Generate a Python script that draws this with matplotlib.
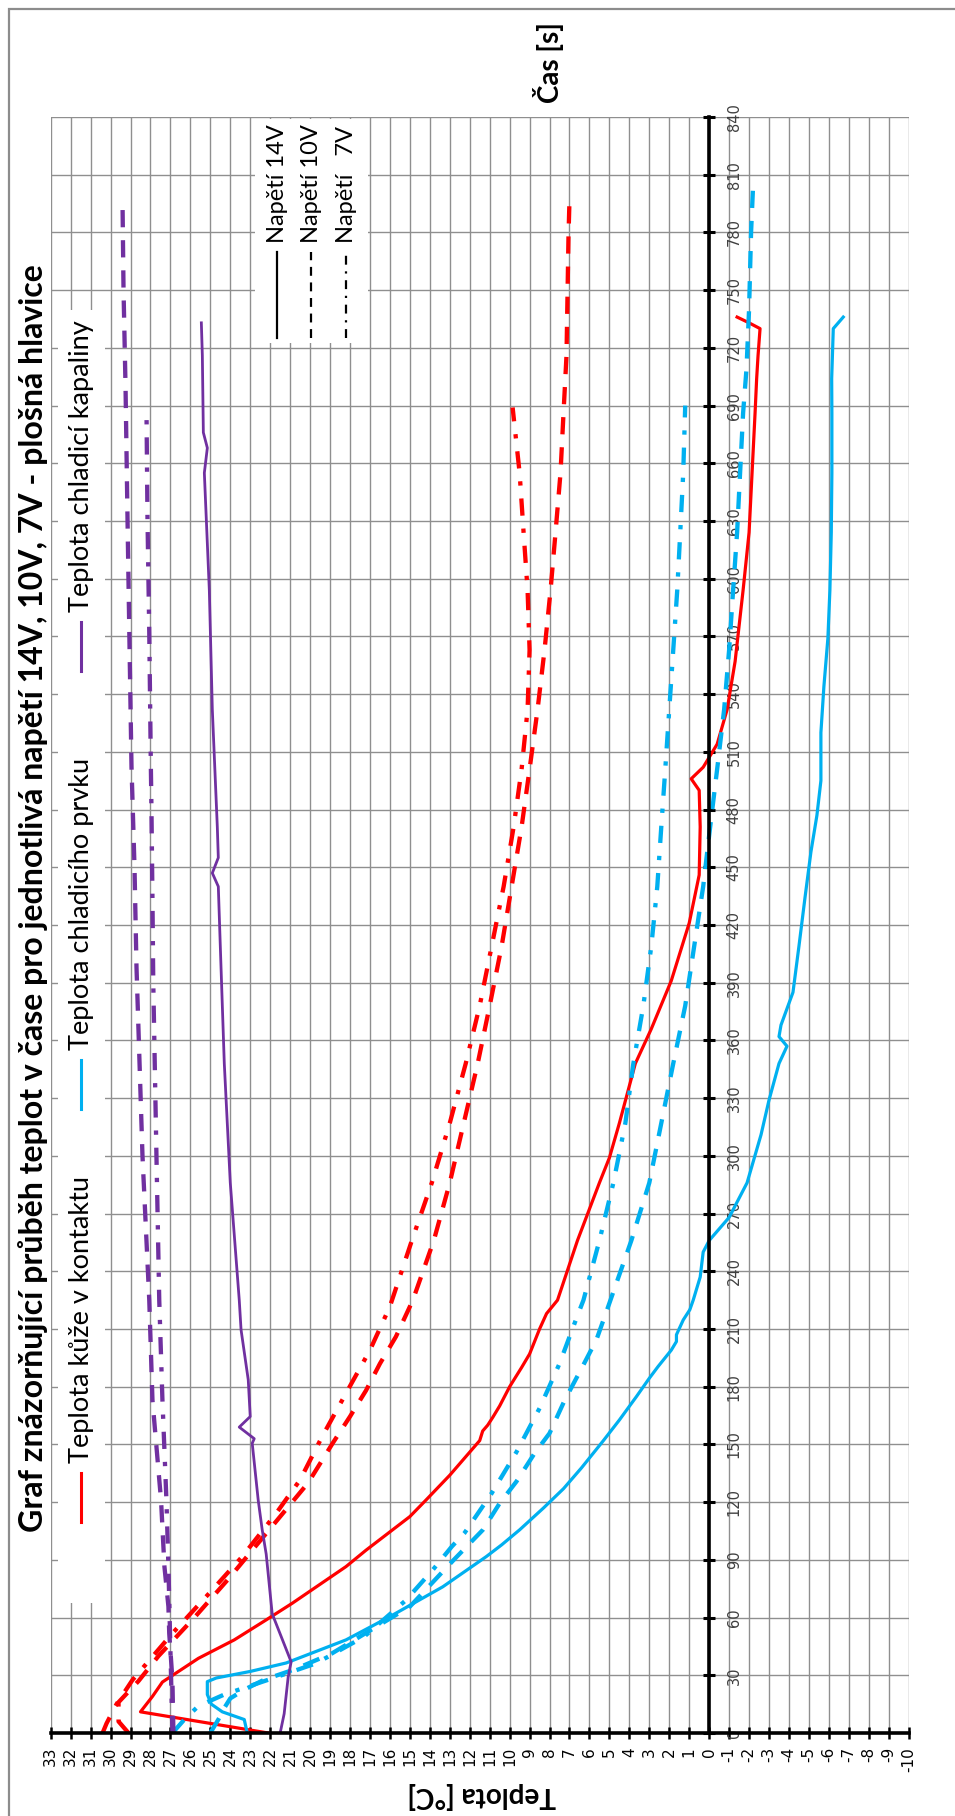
import matplotlib
matplotlib.use("Agg")
import matplotlib.pyplot as plt
from matplotlib.patches import Rectangle
from matplotlib.lines import Line2D

plt.rcParams['font.family'] = ['Lato', 'DejaVu Sans']
plt.rcParams['axes.unicode_minus'] = False

# cas [s] / teplota [°C], plosna hlavice
# teplota kuze v kontaktu
t_kuze_14 = [0, 11, 19, 26.5, 38.8, 48.4, 58.8, 67.4, 86.5, 95, 112.5, 121, 134, 152, 157, 160, 164, 170, 180, 190,
             197, 210, 218, 225, 256, 286, 299, 317, 348, 366, 391, 421, 446, 471, 490, 496, 502, 514, 532, 557,
             594, 624, 655, 686, 704, 716, 730, 733, 736]
T_kuze_14 = [22.1, 28.5, 27.9, 27.4, 25.6, 23.8, 22.2, 20.9, 18.2, 17.2, 15.0, 14.2, 13.0, 11.5, 11.35, 11.1, 10.85, 10.5, 10.0, 9.4,
             9.0, 8.5, 8.15, 7.6, 6.6, 5.5, 5.0, 4.5, 3.7, 2.9, 1.9, 1.0, 0.5, 0.45, 0.5, 0.9, 0.3, -0.4, -0.9, -1.3,
             -1.7, -2.0, -2.15, -2.3, -2.38, -2.45, -2.55, -2.0, -1.4]
t_kuze_10 = [0, 6, 16, 27, 40, 60, 80, 100, 115, 130, 150.6, 164.5, 178, 192, 206, 225, 256, 286, 317, 348,
             378, 409, 440, 471, 501, 532, 563, 594, 624, 655, 686, 716, 747, 778, 797]
T_kuze_10 = [29.1, 29.6, 29.6, 28.6, 27.6, 25.8, 24.1, 22.5, 21.3, 20.1, 18.87, 18.0, 17.2, 16.5, 15.7, 14.85, 13.8, 13.0, 12.3, 11.6,
             11.0, 10.4, 9.9, 9.4, 9.0, 8.6, 8.25, 7.95, 7.7, 7.45, 7.3, 7.15, 7.1, 7.05, 7.0]
t_kuze_7 = [0, 5, 15, 27.6, 51.8, 74.4, 91.7, 114.2, 131.6, 154, 176.6, 199, 221.7, 256, 286, 317, 348, 378, 409, 440,
            471, 501, 532, 563, 594, 624, 655, 689]
T_kuze_7 = [30.4, 30.2, 29.7, 28.9, 26.9, 24.9, 23.4, 21.7, 20.5, 19.4, 18.2, 17.0, 16.0, 14.9, 13.9, 13.0, 12.2, 11.5, 10.9, 10.3,
            9.8, 9.4, 9.1, 9.0, 9.1, 9.3, 9.5, 9.85]

# teplota chladiciho prvku
t_prvek_14 = [0, 7, 11, 15, 20, 26.7, 28.6, 32, 36.4, 48.4, 60.5, 76, 91.7, 97.8, 105.6, 117, 127, 137.8, 152, 162.7,
              174.8, 184.4, 190.5, 199, 203.5, 207, 214.7, 220, 225, 237, 250, 256, 268, 286, 311, 329, 348, 357, 362, 368,
              385, 409, 434, 458, 477, 495, 520, 544, 569, 594, 624, 655, 686, 704, 730, 736]
T_prvek_14 = [23.15, 23.3, 24.4, 24.95, 25.15, 25.15, 24.7, 23.0, 21.2, 18.2, 16.0, 13.35, 11.17, 10.4, 9.5, 8.3, 7.3, 6.4, 5.3, 4.5,
              3.65, 3.0, 2.56, 1.9, 1.64, 1.64, 1.3, 0.97, 0.8, 0.45, 0.3, 0.0, -1.0, -1.9, -2.6, -3.0, -3.5, -3.9, -3.5, -3.6,
              -4.2, -4.5, -4.8, -5.1, -5.4, -5.6, -5.6, -5.75, -5.95, -6.05, -6.12, -6.15, -6.15, -6.14, -6.22, -6.72]
t_prvek_10 = [0, 7, 13, 18, 22.5, 27.7, 33, 41.4, 52, 65.7, 90, 105.6, 119.4, 130.7, 145.4, 155.8, 173, 191, 204.4, 219,
              256, 286, 317, 348, 378, 409, 440, 471, 501, 532, 563, 594, 624, 655, 686, 709, 740, 756, 780, 804]
T_prvek_10 = [25.0, 24.6, 24.3, 24.0, 23.3, 22.3, 20.8, 18.9, 17.2, 15.0, 12.8, 11.34, 10.5, 9.66, 8.75, 8.0, 7.24, 6.32, 5.65, 5.15,
              3.9, 3.0, 2.4, 1.8, 1.2, 0.75, 0.3, -0.05, -0.4, -0.75, -1.0, -1.2, -1.4, -1.55, -1.7, -1.87, -2.0, -2.04, -2.1, -2.2]
t_prvek_7 = [0, 7, 14, 20, 28, 36.2, 50, 69, 84.8, 96.9, 104, 124.6, 146, 168.8, 192, 215.6, 225, 256, 286, 317,
             348, 378, 409, 440, 471, 501, 532, 563, 594, 624, 655, 690]
T_prvek_7 = [26.9, 26.3, 25.6, 24.3, 22.0, 19.7, 17.3, 15.2, 13.85, 12.9, 12.26, 10.9, 9.66, 8.5, 7.5, 6.65, 6.3, 5.5, 4.8, 4.2,
             3.8, 3.3, 2.9, 2.6, 2.4, 2.2, 2.0, 1.8, 1.6, 1.45, 1.3, 1.2]

# teplota chladici kapaliny
t_kapalina_14 = [0, 10, 29, 37, 62, 93, 105.6, 121, 150.6, 153, 159, 164.5, 183.6, 209.6, 225, 286, 348, 409, 440, 447,
                 455, 471, 532, 594, 655, 668, 676, 716, 733]
T_kapalina_14 = [21.5, 21.3, 21.1, 20.95, 21.9, 22.2, 22.4, 22.6, 22.9, 22.8, 23.55, 23.0, 23.1, 23.46, 23.55, 24.0, 24.3, 24.5, 24.6, 24.9,
                 24.6, 24.65, 24.9, 25.05, 25.3, 25.15, 25.35, 25.4, 25.45]
t_kapalina_10 = [0, 27.6, 52, 65.7, 86.5, 121, 173, 225, 300, 398, 450, 502, 572, 631, 700, 750, 795]
T_kapalina_10 = [26.85, 26.9, 27.06, 27.1, 27.3, 27.47, 27.9, 28.06, 28.4, 28.7, 28.8, 28.95, 29.06, 29.15, 29.25, 29.35, 29.4]
t_kapalina_7 = [0, 69, 86.5, 121, 173, 225, 300, 390, 433, 480, 502, 572, 632, 688]
T_kapalina_7 = [26.9, 27.06, 27.1, 27.2, 27.4, 27.56, 27.7, 27.86, 27.9, 27.95, 27.98, 28.06, 28.15, 28.2]

titulek = 'Graf znázorňující průběh teplot v čase pro jednotlivá napětí 14V, 10V, 7V - plošná hlavice'
nazvy = ['Teplota kůže v kontaktu', 'Teplota chladicího prvku', 'Teplota chladicí kapaliny']
napeti = ['Napětí 14V', 'Napětí 10V', 'Napětí   7V']

RED, BLUE, PURPLE = '#ff0000', '#00b0f0', '#7030a0'
DASH = (4, 3)
DASHDOT = (4, 3, 1, 3)

W, H = 955, 1816
fig = plt.figure(figsize=(W / 100, H / 100), dpi=100)


def fx(x):
    return x / W


def fy(y):
    return 1 - y / H


# graf je otoceny o 90 stupnu: teplota vodorovne, cas svisle
ax = fig.add_axes([fx(50.7), fy(1733), (908.7 - 50.7) / W, (1733 - 117) / H])
ax.set_xlim(33, -10)
ax.set_ylim(0, 840)
ax.set_xticks(range(-10, 34))
ax.set_yticks(range(0, 841, 30))
ax.grid(True, color='#8f8f8f', lw=1.0)
ax.set_axisbelow(True)
ax.spines['top'].set_visible(False)
ax.spines['right'].set_visible(False)
ax.spines['left'].set_position(('data', 0))
ax.spines['left'].set_linewidth(2.6)
ax.spines['bottom'].set_linewidth(2.6)
ax.tick_params(axis='x', direction='inout', length=8, width=1.8, labelsize=11,
               labelrotation=90, pad=6, labelfontfamily='DejaVu Sans')
ax.tick_params(axis='y', direction='inout', length=8, width=2.2, labelsize=10.5,
               labelrotation=90, pad=-16.7, labelcolor='#404040', labelfontfamily='DejaVu Sans')
for lab in ax.get_yticklabels():
    lab.set_ha('left')
    lab.set_va('center')

ax.plot(T_kuze_14, t_kuze_14, color=RED, lw=2.3, solid_joinstyle='round')
ax.plot(T_kuze_10, t_kuze_10, color=RED, lw=3.1, dashes=DASH)
ax.plot(T_kuze_7, t_kuze_7, color=RED, lw=3.1, dashes=DASHDOT)
ax.plot(T_prvek_14, t_prvek_14, color=BLUE, lw=2.3, solid_joinstyle='round')
ax.plot(T_prvek_10, t_prvek_10, color=BLUE, lw=3.1, dashes=DASH)
ax.plot(T_prvek_7, t_prvek_7, color=BLUE, lw=3.1, dashes=DASHDOT)
ax.plot(T_kapalina_14, t_kapalina_14, color=PURPLE, lw=2.0, solid_joinstyle='round')
ax.plot(T_kapalina_10, t_kapalina_10, color=PURPLE, lw=3.1, dashes=DASH)
ax.plot(T_kapalina_7, t_kapalina_7, color=PURPLE, lw=3.1, dashes=DASHDOT)

# legenda serii (bile pozadi pres mrizku)
fig.patches.append(Rectangle((fx(58), fy(1603)), (105 - 58) / W, (1603 - 310) / H,
                             transform=fig.transFigure, fc='white', ec='none', zorder=1))
for nazev, barva, y0 in zip(nazvy, [RED, BLUE, PURPLE], [1463, 1050, 612]):
    fig.add_artist(Line2D([fx(81), fx(81)], [fy(y0 + 10), fy(y0 + 59)], transform=fig.transFigure,
                          color=barva, lw=2.2))
    fig.text(fx(81), fy(y0), nazev, rotation=90, ha='center', va='bottom', fontsize=19.5)

# legenda napeti
fig.patches.append(Rectangle((fx(255), fy(343)), (368 - 255) / W, (343 - 119) / H,
                             transform=fig.transFigure, fc='white', ec='none', zorder=1))
for txt, styl, x0 in zip(napeti, [None, DASH, DASHDOT], [277, 311, 346]):
    ln = Line2D([fx(x0), fx(x0)], [fy(338), fy(252)], transform=fig.transFigure, color='black', lw=1.6)
    if styl:
        ln.set_dashes(styl)
    fig.add_artist(ln)
    fig.text(fx(x0), fy(243), txt, rotation=90, ha='center', va='bottom', fontsize=17)

fig.text(fx(33), fy(1532), titulek, rotation=90, ha='center', va='bottom', fontsize=23, fontweight='bold')
fig.text(fx(549), fy(103), 'Čas [s]', rotation=90, ha='center', va='bottom', fontsize=20, fontweight='bold')
fig.text(fx(482), fy(1796), 'Teplota [°C]', rotation=180, ha='center', va='center', fontsize=20, fontweight='bold')

# ramecek kolem grafu
fig.patches.append(Rectangle((fx(9), -0.1), 1.2, fy(9) + 0.1, transform=fig.transFigure,
                             fill=False, ec='#8c8c8c', lw=1.6, zorder=5))

fig.savefig('out.png', dpi=100)
